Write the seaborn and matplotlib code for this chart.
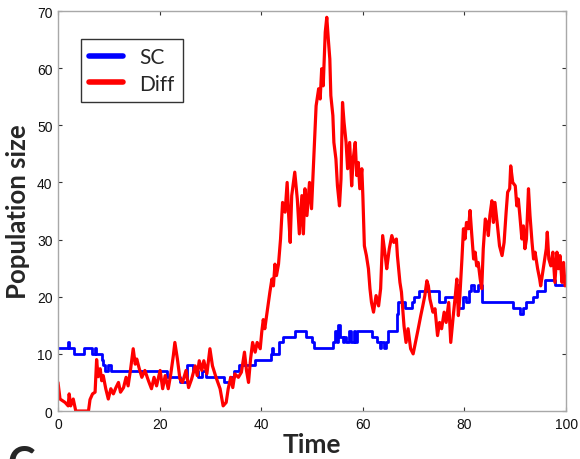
import numpy as np
import pandas as pd
import matplotlib
matplotlib.use("Agg")
import matplotlib.pyplot as plt
import seaborn as sns

# ---- data ----
sc_time = [0, 1.9, 2.2, 3.2, 5.2, 6.6, 7.2, 7.5, 8.6, 8.9, 9.3, 9.8, 10.4, 21.4, 24.0, 25.4,
           26.6, 27.6, 28.3, 29.2, 32.6, 33.9, 34.6, 35.6, 38.7, 41.9, 42.1, 42.4, 43.5, 44.3,
           46.6, 48.9, 49.9, 50.3, 54.2, 54.6, 54.9, 55.2, 55.5, 56.0, 56.3, 56.7, 57.2, 57.6,
           58.2, 58.5, 58.8, 61.8, 62.7, 63.3, 63.6, 64.2, 64.5, 65.0, 66.8, 67.0, 68.3, 69.6,
           70.0, 71.0, 74.9, 76.2, 78.3, 78.8, 79.8, 80.4, 80.8, 81.2, 81.9, 82.7, 83.4, 89.6,
           90.9, 91.6, 92.2, 93.5, 94.3, 95.8, 97.8, 100]
sc_pop = [11, 12, 11, 10, 11, 10, 11, 10, 9, 8, 7, 8, 7, 6, 5, 8,
          7, 6, 7, 6, 5, 6, 7, 8, 9, 10, 11, 10, 12, 13,
          14, 13, 12, 11, 12, 14, 12, 15, 13, 12, 13, 12, 14, 12,
          14, 12, 14, 13, 12, 11, 12, 11, 12, 14, 17, 19, 18, 19,
          20, 21, 19, 20, 22, 18, 20, 19, 21, 22, 21, 22, 19, 18,
          17, 18, 19, 20, 21, 23, 22, 22]

diff_time = [0, 0.4, 1.4, 2.0, 2.2, 2.5, 3.0, 3.5, 6.0, 6.3, 6.8, 7.3, 7.6, 7.9, 8.3, 8.6, 8.9,
             9.4, 9.9, 10.4, 10.9, 11.4, 11.9, 12.3, 12.9, 13.4, 13.8, 14.3, 14.8, 15.2, 15.5,
             16.0, 16.5, 17.1, 17.8, 18.4, 18.9, 19.4, 20.1, 20.6, 21.1, 21.7, 22.2, 22.7, 23.0,
             23.5, 24.0, 24.5, 25.2, 25.7, 26.3, 27.0, 27.4, 27.8, 28.3, 28.7, 29.3, 29.9, 30.4,
             31.1, 31.9, 32.5, 33.1, 33.5, 34.0, 34.4, 34.8, 35.5, 36.1, 36.7, 37.1, 37.5, 37.9,
             38.3, 38.8, 39.2, 39.8, 40.1, 40.4, 40.7, 41.1, 41.4, 41.7, 42.1, 42.4, 42.7, 43.0,
             43.4, 43.8, 44.2, 44.7, 45.1, 45.4, 45.7, 46.0, 46.6, 47.1, 47.5, 48.0, 48.3, 48.6,
             49.0, 49.5, 49.9, 50.4, 50.8, 51.3, 51.6, 51.9, 52.2, 52.6, 52.9, 53.2, 53.5, 53.7,
             54.1, 54.3, 54.7, 55.0, 55.4, 55.7, 56.0, 56.3, 56.7, 57.0, 57.4, 57.8, 58.1, 58.5,
             58.8, 59.1, 59.4, 59.8, 60.0, 60.3, 60.7, 61.1, 61.4, 61.7, 62.1, 62.6, 63.1, 63.5,
             63.9, 64.4, 64.7, 65.2, 65.7, 66.1, 66.6, 66.8, 67.3, 67.6, 68.1, 68.5, 68.9, 69.4,
             69.9, 70.5, 70.9, 71.4, 71.8, 72.2, 72.6, 72.9, 73.2, 73.8, 74.2, 74.7, 75.1, 75.5,
             76.0, 76.4, 76.9, 77.3, 77.8, 78.2, 78.5, 78.8, 79.1, 79.5, 79.8, 80.1, 80.4, 80.8,
             81.1, 81.4, 81.8, 82.1, 82.4, 82.7, 83.1, 83.4, 83.7, 84.1, 84.4, 84.7, 85.0, 85.4,
             85.7, 86.0, 86.5, 86.9, 87.4, 87.8, 88.2, 88.5, 88.9, 89.1, 89.5, 90.0, 90.3, 90.6,
             90.9, 91.3, 91.6, 91.9, 92.2, 92.6, 92.9, 93.3, 93.6, 93.9, 94.4, 94.8, 95.0, 95.4,
             95.8, 96.1, 96.3, 96.6, 97.0, 97.4, 97.8, 98.2, 98.5, 98.8, 99.2, 99.5, 99.8, 100]
diff_pop = [5, 2.1, 1.5, 0.9, 3, 0.9, 2.1, 0, 0, 2, 3, 3.3, 9, 6, 7.4, 5.3, 6.2,
            3.9, 2.1, 3.9, 3, 4.1, 5, 3.3, 4.1, 5.9, 4.4, 7.4, 10.9, 8.2, 9.1,
            7.4, 5.9, 7.1, 5.3, 3.9, 5.9, 4.4, 7.1, 3.9, 6.2, 3.9, 6.5, 9.7, 12,
            9.1, 5.6, 5, 7.1, 4.1, 5.6, 7.9, 6.2, 8.8, 7.1, 8.8, 6.5, 10.9, 7.9,
            5.9, 3.9, 0.9, 1.5, 3.9, 5.9, 4.1, 6.5, 5.9, 6.8, 10.3, 7.1, 5, 9.1,
            12, 10.3, 12, 10.9, 13.8, 16, 14.4, 17, 19, 20.8, 23.1, 21.9, 25.7, 23.7,
            25.7, 30.1, 36.5, 34.8, 40, 34.2, 29.5, 37.7, 41.8, 37.1, 31, 37.7, 31, 38.9,
            34.2, 40, 35.4, 45.3, 53.4, 56.4, 54.6, 59.9, 56.9, 66.3, 68.9, 65.1, 61.6, 55.2,
            51.7, 47, 44.1, 39.4, 35.9, 40.6, 54, 50.5, 47, 42.4, 47, 39.4, 44.1, 47,
            41.2, 43.5, 38.9, 42.4, 37.7, 28.9, 27.2, 24.9, 21.4, 19, 17.3, 20.2, 18.4, 21.4,
            30.7, 27.2, 24.9, 28.4, 30.7, 29.5, 30.1, 27.2, 22.5, 20.8, 14.9, 12, 14.4, 10.9,
            10, 12.6, 14.4, 16.7, 18.4, 20.2, 22.8, 21.9, 19.6, 17.3, 17.9, 13.2, 15.5, 14.4,
            17.3, 15.5, 19, 12, 16.7, 20.2, 23.1, 16.7, 20.2, 26.6, 31.9, 30.1, 33, 31.9,
            35.1, 31.3, 26.6, 27.8, 25.4, 26, 23.1, 21.4, 28.4, 33.6, 33, 30.7, 34.2, 36.8,
            33, 36.5, 32.4, 28.9, 27.2, 29.5, 34.8, 38.3, 38.9, 42.9, 40, 39.4, 35.9, 37.1,
            34.2, 30.1, 32.4, 28.4, 30.1, 38.9, 34.2, 29.5, 26.6, 27.8, 24.9, 23.1, 21.9, 24.3,
            26.6, 28.4, 31.3, 26.6, 25.4, 27.8, 22.5, 27.8, 24.9, 27.2, 22.5, 26, 21.9, 22]

x_ticks = [0, 20, 40, 60, 80, 100]
y_ticks = [0, 10, 20, 30, 40, 50, 60, 70]

sc_df = pd.DataFrame({"Time": sc_time, "Population size": sc_pop})
diff_df = pd.DataFrame({"Time": diff_time, "Population size": diff_pop})

sns.set_style("white")
plt.rcParams["font.family"] = ["Liberation Sans", "DejaVu Sans"]

fig = plt.figure(figsize=(5.8, 4.6), dpi=100)
ax = fig.add_axes([0.1, 0.1043, 0.876, 0.8696])

sns.lineplot(data=sc_df, x="Time", y="Population size", ax=ax, color="#0000ff",
             lw=2, estimator=None, sort=False, drawstyle="steps-post", label="SC")
sns.lineplot(data=diff_df, x="Time", y="Population size", ax=ax, color="#ff0000",
             lw=2.3, estimator=None, sort=False, label="Diff")

ax.set_xlim(0, 100)
ax.set_ylim(0, 70)
ax.set_xticks(x_ticks)
ax.set_yticks(y_ticks)
ax.tick_params(direction="in", length=3, width=0.8, color="#333333", labelsize=10,
               top=True, right=True, bottom=True, left=True, pad=4, labelcolor="#111111")
for s in ax.spines.values():
    s.set_visible(True)
    s.set_color("#a8a8a8")
    s.set_linewidth(1.0)

ax.set_xlabel("Time", fontsize=19, fontweight="bold", family=["Lato", "DejaVu Sans"], labelpad=1)
ax.set_ylabel("Population size", fontsize=18.5, fontweight="bold", family=["Lato", "DejaVu Sans"], labelpad=5)

leg = ax.legend(loc="upper left", bbox_to_anchor=(0.045, 0.93), borderaxespad=0,
                prop={"family": "Lato", "size": 15}, frameon=True, fancybox=False,
                edgecolor="black", handlelength=1.6, handletextpad=0.8,
                labelspacing=0.3, borderpad=0.4)
leg.get_frame().set_linewidth(1.0)
for line in leg.get_lines():
    line.set_linewidth(4)

fig.text(0.012, 0.03, "C", fontsize=30, fontweight="bold", family=["Lato", "DejaVu Sans"],
         va="top", ha="left")

fig.savefig("out.png", dpi=100, facecolor="white")
